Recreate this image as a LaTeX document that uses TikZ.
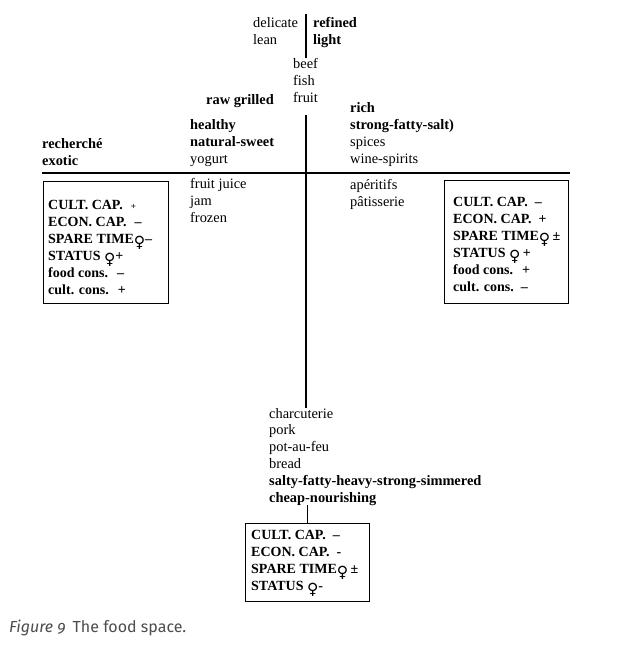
\documentclass[tikz,border=0pt]{standalone}
\usepackage{fontspec}
\setmainfont{Liberation Serif}
\newfontfamily\symfont{DejaVu Sans}
\newfontfamily\capfont[Numbers=OldStyle]{Fira Sans}
\usetikzlibrary{positioning}
\definecolor{capgray}{gray}{0.3}
\newcommand{\fem}{\raisebox{-4.5pt}{\symfont\bfseries\fontsize{15.5}{15}\selectfont ♀}}
\newcommand{\txtsize}{\fontsize{14.4}{16.8}\selectfont}
\newcommand{\boxsize}{\fontsize{14}{17}\selectfont}
\tikzset{
  lbl/.style = {anchor=base west, inner sep=0pt, align=left, font=\txtsize},
  bold lbl/.style = {lbl, font=\txtsize\bfseries},
  attr/.style = {anchor=base west, inner sep=0pt, align=left, font=\boxsize\bfseries},
  cbox/.style = {draw, line width=1.3pt, anchor=north west, inner sep=0pt},
  axis/.style = {line width=1.5pt}
}

\begin{document}
\begin{tikzpicture}[x=1pt, y=-1pt]
\useasboundingbox (0,0) rectangle (629,649);
% axes
\coordinate (top) at (306,14);
\coordinate (topend) at (306,58);
\coordinate (mid) at (306,115);
\coordinate (low) at (306,408);
\coordinate (west) at (42,173);
\coordinate (east) at (570,173);
\draw[line width=1.1pt] (top)--(topend);
\draw[axis] (mid)--(low);
\draw[axis] (west)--(east);
% upper half (nodes sit on the baseline of their last line)
\node[lbl] (delicate) at (253,44) {delicate\\lean};
\node[bold lbl] (refined) at (313,44) {refined\\light};
\node[lbl] (beef) at (293,102) {beef\\fish\\fruit};
\node[bold lbl] (rawgrilled) at (206,104) {raw grilled};
\node[lbl] (healthy) at (190,163) {\textbf{healthy}\\\textbf{natural-sweet}\\yogurt};
\node[lbl] (rich) at (350,163) {\textbf{rich}\\\textbf{strong-fatty-salt)}\\spices\\wine-spirits};
\node[bold lbl] (recherche) at (42,165) {recherché\\exotic};
% lower half
\node[lbl] (juice) at (190,222) {fruit juice\\jam\\frozen};
\node[lbl] (aperitifs) at (350,206) {apéritifs\\pâtisserie};
\node[lbl] (charcuterie) at (269,502) {charcuterie\\pork\\pot-au-feu\\bread\\\textbf{salty-fatty-heavy-strong-simmered}\\\textbf{cheap-nourishing}};
% boxes
\node[cbox, minimum width=125pt, minimum height=122pt] (lbox) at (43,181) {};
\node[attr] (ltxt) at (48,294) {CULT. CAP.\hspace{8pt}{\small +}\\ECON. CAP.\hspace{8pt}--\\SPARE TIME\fem--\\STATUS \fem+\\food cons.\hspace{9pt}--\\cult. cons.\hspace{9pt}+};
\node[cbox, minimum width=124pt, minimum height=123pt] (rbox) at (444,180) {};
\node[attr] (rtxt) at (453,291) {CULT. CAP.\hspace{7pt}--\\ECON. CAP.\hspace{7pt}+\\SPARE TIME\fem\,±\\STATUS \fem\,+\\food cons.\hspace{9pt}+\\cult. cons.\hspace{7pt}--};
\node[cbox, minimum width=124pt, minimum height=78pt] (bbox) at (245,523) {};
\node[attr] (btxt) at (251,590) {CULT. CAP.\hspace{7pt}--\\ECON. CAP.\hspace{7pt}-\\SPARE TIME\fem\,±\\STATUS \fem-};
\draw[axis] (bbox.north) -- (bbox.north |- charcuterie.south);
% caption
\node[anchor=base west, inner sep=0pt, font=\capfont\fontsize{16}{18}\selectfont, text=capgray] (caption) at (9,632) {\textit{Figure 9}\hspace{7pt}The food space.};
\end{tikzpicture}
\end{document}
